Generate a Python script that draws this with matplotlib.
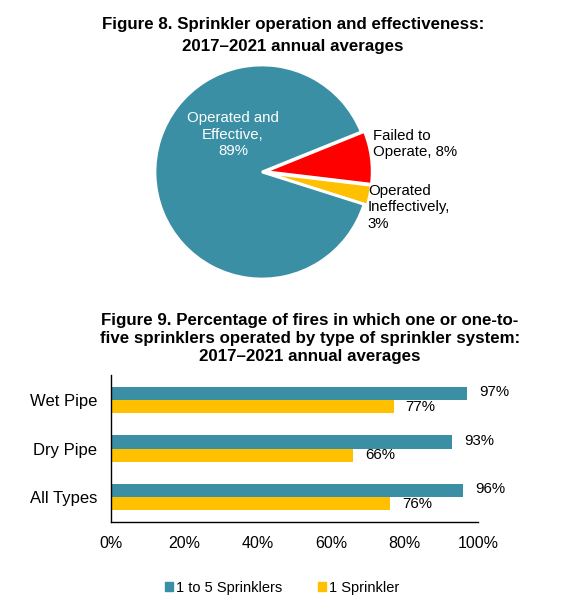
import matplotlib
matplotlib.use("Agg")
import matplotlib.pyplot as plt
from matplotlib.patches import Patch

plt.rcParams['font.family'] = ['Liberation Sans', 'DejaVu Sans']

# Pie data
pie_labels = ["Failed to\nOperate, 8%", "Operated\nIneffectively,\n3%", "Operated and\nEffective,\n89%"]
pie_values = [8, 3, 89]
pie_colors = ["#FF0000", "#FFC000", "#3A8FA4"]

# Bar data
categories = ["Wet Pipe", "Dry Pipe", "All Types"]
five_sprinklers = [97, 93, 96]
one_sprinkler = [77, 66, 76]
series_names = ["1 to 5 Sprinklers", "1 Sprinkler"]
bar_colors = ["#3A8FA4", "#FFC000"]
xticks = [0, 20, 40, 60, 80, 100]

W, H = 568, 613
fig = plt.figure(figsize=(W / 100, H / 100), dpi=100)

def px_axes(left, top, width, height):
    return fig.add_axes([left / W, 1 - (top + height) / H, width / W, height / H])

TFS = 12.2
# Titles
fig.text(293 / W, 1 - 25 / H, "Figure 8. Sprinkler operation and effectiveness:",
         ha="center", va="center", fontsize=TFS, fontweight="bold")
fig.text(293 / W, 1 - 46 / H, "2017\u20132021 annual averages",
         ha="center", va="center", fontsize=TFS, fontweight="bold")
fig.text(310 / W, 1 - 320 / H, "Figure 9. Percentage of fires in which one or one-to-",
         ha="center", va="center", fontsize=TFS, fontweight="bold")
fig.text(310 / W, 1 - 339 / H, "five sprinklers operated by type of sprinkler system:",
         ha="center", va="center", fontsize=TFS, fontweight="bold")
fig.text(310 / W, 1 - 357 / H, "2017\u20132021 annual averages",
         ha="center", va="center", fontsize=TFS, fontweight="bold")

# Pie
R = 107
cx, cy = 262, 172
ax1 = px_axes(cx - 1.4 * R, cy - 1.4 * R, 2.8 * R, 2.8 * R)
ax1.pie(pie_values, colors=pie_colors, startangle=22, counterclock=False,
        explode=[0.03, 0.03, 0],
        wedgeprops=dict(edgecolor="white", linewidth=2))
ax1.set_xlim(-1.4, 1.4)
ax1.set_ylim(-1.4, 1.4)
ax1.set_aspect("equal")
ax1.axis("off")
ax1.text(-0.27, 0.35, pie_labels[2], color="white", ha="center", va="center",
         fontsize=10.8, linespacing=1.2)
ax1.text(1.04, 0.26, pie_labels[0], color="black", ha="left", va="center",
         fontsize=10.8, linespacing=1.2)
ax1.text(0.99, -0.33, pie_labels[1], color="black", ha="left", va="center",
         fontsize=10.8, linespacing=1.2)

# Bars
ax2 = px_axes(111, 375, 367, 147)
n = len(categories)
ypos = [n - 1 - i for i in range(n)]
bh = 0.27
ax2.barh([y + bh / 2 for y in ypos], five_sprinklers, height=bh, color=bar_colors[0])
ax2.barh([y - bh / 2 for y in ypos], one_sprinkler, height=bh, color=bar_colors[1])
for y, v in zip(ypos, five_sprinklers):
    ax2.text(v + 3.3, y + bh / 2 + 0.02, f"{v}%", va="center", ha="left", fontsize=10.8)
for y, v in zip(ypos, one_sprinkler):
    ax2.text(v + 3.3, y - bh / 2, f"{v}%", va="center", ha="left", fontsize=10.8)
ax2.set_xlim(0, 100)
ax2.set_ylim(-0.515, n - 1 + 0.515)
ax2.set_yticks(ypos)
ax2.set_yticklabels(categories, fontsize=12)
ax2.set_xticks(xticks)
ax2.set_xticklabels([f"{t}%" for t in xticks], fontsize=11.5)
ax2.tick_params(axis="both", length=0)
ax2.tick_params(axis="y", pad=10)
ax2.tick_params(axis="x", pad=10)
for s in ["top", "right"]:
    ax2.spines[s].set_visible(False)
for s in ["left", "bottom"]:
    ax2.spines[s].set_color("black")
    ax2.spines[s].set_linewidth(1)

handles = [Patch(color=c) for c in bar_colors]
fig.legend(handles, series_names, loc="center", bbox_to_anchor=(282 / W, 1 - 588 / H),
           ncol=2, frameon=False, fontsize=10.5, handlelength=0.6, handleheight=0.6,
           handletextpad=0.2, columnspacing=2.4)

fig.savefig("out.png", dpi=100)
